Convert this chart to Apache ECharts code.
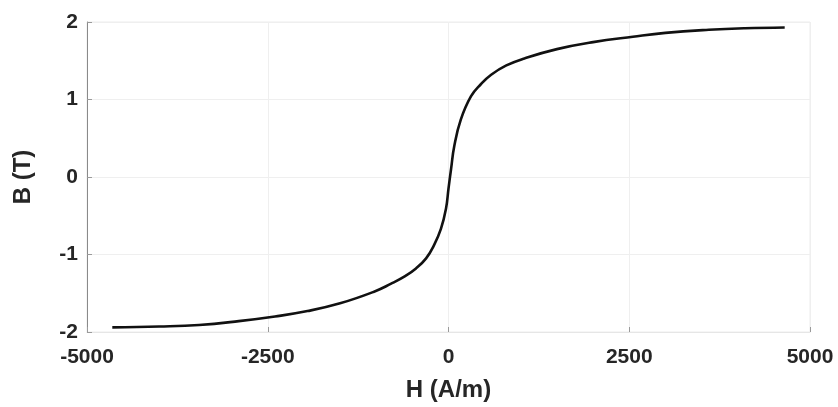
<!DOCTYPE html>
<html>
<head>
<meta charset="utf-8">
<script src="https://cdn.jsdelivr.net/npm/echarts@6/dist/echarts.min.js"></script>
<style>
  html, body { margin: 0; padding: 0; background: #fff; }
  #chart { width: 838px; height: 407px; }
</style>
</head>
<body>
<div id="chart"></div>
<script>
// Magnetization (B-H) curve of the core material
const fieldH = [-4650, -4000, -3450, -2900, -2400, -1950, -1500, -1030, -800, -600, -450, -310, -200, -105, -35,
                0, 35, 80, 170, 310, 450, 590, 800, 1050, 1500, 2000, 2550, 3000, 3600, 4100, 4650];
const fluxB = [-1.94, -1.93, -1.91, -1.86, -1.80, -1.73, -1.63, -1.48, -1.38, -1.28, -1.18, -1.05, -0.88, -0.67, -0.41,
               -0.15, 0.10, 0.40, 0.74, 1.04, 1.20, 1.32, 1.44, 1.53, 1.65, 1.74, 1.81, 1.86, 1.90, 1.92, 1.93];
const xTicks = [-5000, -2500, 0, 2500, 5000];
const yTicks = [-2, -1, 0, 1, 2];
const xTitle = 'H (A/m)';
const yTitle = 'B (T)';

const points = fieldH.map((h, i) => [h, fluxB[i]]);
const textColor = '#262626';
const fontFamily = '"Liberation Sans", Arial, sans-serif';

const chart = echarts.init(document.getElementById('chart'), null, { renderer: 'canvas' });
chart.setOption({
  animation: false,
  backgroundColor: '#ffffff',
  grid: {
    left: 87, right: 28, top: 22, bottom: 73,
    show: true, borderColor: '#ececec', borderWidth: 1, backgroundColor: 'transparent'
  },
  xAxis: {
    type: 'value',
    min: xTicks[0], max: xTicks[xTicks.length - 1], interval: 2500,
    name: xTitle, nameLocation: 'middle', nameGap: 46,
    nameTextStyle: { color: textColor, fontSize: 24, fontWeight: 'bold', fontFamily },
    axisLine: { show: true, onZero: false, lineStyle: { color: '#e6e6e6', width: 1 } },
    axisTick: { show: true, inside: true, length: 5, lineStyle: { color: '#9a9a9a' } },
    axisLabel: { color: textColor, fontSize: 21, fontWeight: 'bold', fontFamily, margin: 15,
                 formatter: v => String(v) },
    splitLine: { show: true, lineStyle: { color: '#efefef', width: 1 } }
  },
  yAxis: {
    type: 'value',
    min: yTicks[0], max: yTicks[yTicks.length - 1], interval: 1,
    name: yTitle, nameLocation: 'middle', nameGap: 52, nameRotate: 90,
    nameTextStyle: { color: textColor, fontSize: 24, fontWeight: 'bold', fontFamily },
    axisLine: { show: true, onZero: false, lineStyle: { color: '#8a8a8a', width: 1 } },
    axisTick: { show: true, inside: true, length: 5, lineStyle: { color: '#9a9a9a' } },
    axisLabel: { color: textColor, fontSize: 21, fontWeight: 'bold', fontFamily, margin: 9,
                 formatter: v => String(v) },
    splitLine: { show: true, lineStyle: { color: '#efefef', width: 1 } }
  },
  series: [{
    type: 'line',
    data: points,
    showSymbol: false,
    smooth: 0.45,
    lineStyle: { color: '#111111', width: 2.6 }
  }]
});
</script>
</body>
</html>
